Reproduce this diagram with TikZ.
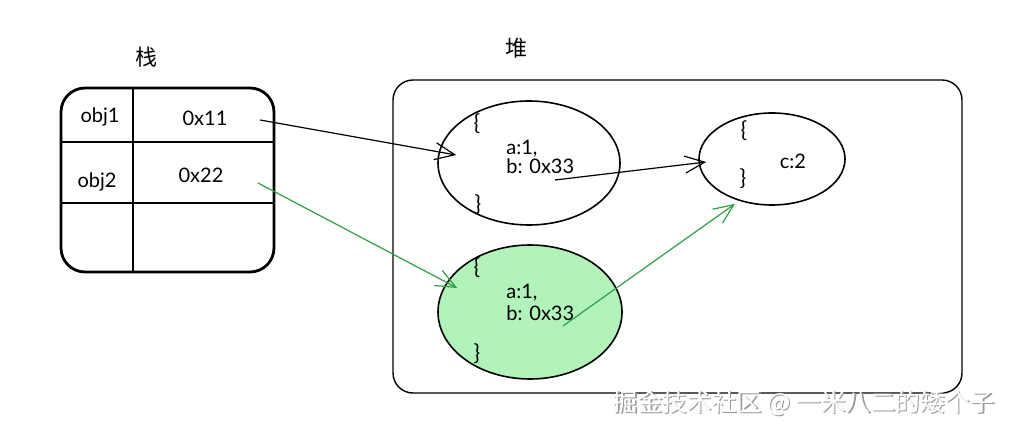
\documentclass[tikz,border=0pt]{standalone}
\usepackage{fontspec}
\setmainfont{Lato}
\newfontfamily\cjk{Noto Sans CJK SC}
\usetikzlibrary{arrows.meta,shapes.geometric}
\definecolor{heapG}{RGB}{178,242,187}
\definecolor{arrG}{RGB}{47,158,68}

\begin{document}
\begin{tikzpicture}[x=0.5pt,y=-0.5pt,>={Straight Barb[length=3.5mm,width=3mm]},
  blob/.style={draw,ellipse,inner sep=0pt,line width=0.8pt},
  lbl/.style={font=\fontsize{10}{12}\selectfont,inner sep=0pt},
  brc/.style={font=\fontsize{11}{12}\selectfont,inner sep=0pt},
  wmk/.style={font=\cjk\fontsize{12.4}{14}\selectfont,inner sep=0pt,anchor=east}]
\useasboundingbox (0,0) rectangle (1011,432);

% stack
\node[font=\cjk\fontsize{11}{12}\selectfont] (stk) at (146,57) {栈};
\draw[line width=1.4pt,rounded corners=12pt] (61,88) rectangle (274,272);
\draw[line width=1.4pt] (133,88)--(133,272) (62,142)--(273,142) (62,203)--(273,203);
\node[lbl] (k1) at (100,117) {obj1};
\node[lbl] (v1) at (205,118) {0x11};
\node[lbl] (k2) at (97,182) {obj2};
\node[lbl] (v2) at (201,175) {0x22};
\coordinate (s1) at (260,120);
\coordinate (s2) at (258,183);

% heap
\node[font=\cjk\fontsize{11}{12}\selectfont] (hp) at (516,48) {堆};
\draw[line width=0.7pt,rounded corners=10pt] (393,80) rectangle (962,393);

\node[blob,minimum width=91pt,minimum height=62pt] (o1) at (529,163) {};
\node[blob,fill=heapG,minimum width=92pt,minimum height=67pt] (o2) at (530,312) {};
\node[blob,minimum width=73pt,minimum height=46pt] (o3) at (772,159) {};

\node[brc] (o1a) at (477,124) {\{};
\node[lbl,anchor=west] (o1b) at (506,149) {a:1,};
\node[lbl,anchor=west] (o1c) at (506,166) {b: 0x33};
\node[brc] (o1d) at (478,205) {\}};
\coordinate (r1) at (555,180);

\node[brc] (o2a) at (477,268) {\{};
\node[lbl,anchor=west] (o2b) at (506,293) {a:1,};
\node[lbl,anchor=west] (o2c) at (506,313) {b: 0x33};
\node[brc] (o2d) at (477,354) {\}};
\coordinate (r2) at (563,326);

\node[brc] (o3a) at (744,131) {\{};
\node[lbl] (o3b) at (793,161) {c:2};
\node[brc] (o3d) at (743,179) {\}};

% references
\draw[->,line width=0.6pt] (s1) -- ([shift={(19,-8)}]o1.west);
\draw[->,line width=0.6pt] (r1) -- ([shift={(8,3)}]o3.west);
\draw[->,line width=0.6pt,arrG] (s2) -- ([shift={(20,-24)}]o2.west);
\draw[->,line width=0.6pt,arrG] (r2) -- ([shift={(-37,-2)}]o3.south);

% watermark
\node[wmk,text=gray!80] (wm0) at (996.5,404.5) {掘金技术社区 @ 一米八二的矮个子};
\node[wmk,text=white] (wm) at (995,403) {掘金技术社区 @ 一米八二的矮个子};
\end{tikzpicture}
\end{document}
